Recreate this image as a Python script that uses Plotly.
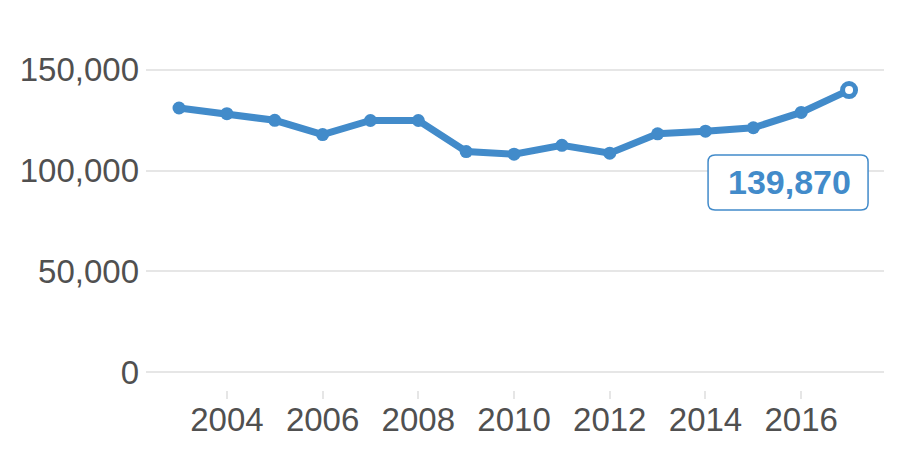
import plotly.graph_objects as go

years = list(range(2003, 2018))
values = [131000, 128200, 124900, 117800, 124800, 124800, 109400, 108100,
          112500, 108600, 118200, 119500, 121200, 128800, 139870]
y_ticks = [0, 50000, 100000, 150000]
x_ticks = [2004, 2006, 2008, 2010, 2012, 2014, 2016]

BLUE = "#428bca"
GRID = "#e6e6e6"
TEXT = "#505050"

fig = go.Figure()
fig.add_trace(go.Scatter(
    x=years, y=values, mode="lines",
    line=dict(color=BLUE, width=7), hoverinfo="skip",
))
fig.add_trace(go.Scatter(
    x=years[:-1], y=values[:-1], mode="markers",
    marker=dict(color=BLUE, size=13), hoverinfo="skip",
))
fig.add_trace(go.Scatter(
    x=[years[-1]], y=[values[-1]], mode="markers",
    marker=dict(color="white", size=13, line=dict(color=BLUE, width=5)),
    hoverinfo="skip",
))

def rrect(x0, y0, x1, y1, r):
    return (f"M{x0+r},{y0} L{x1-r},{y0} Q{x1},{y0} {x1},{y0+r} "
            f"L{x1},{y1-r} Q{x1},{y1} {x1-r},{y1} L{x0+r},{y1} "
            f"Q{x0},{y1} {x0},{y1-r} L{x0},{y0+r} Q{x0},{y0} {x0+r},{y0} Z")

fig.add_shape(
    type="path", xsizemode="pixel", ysizemode="pixel",
    xanchor=years[-1], yanchor=values[-1],
    path=rrect(-141, -120, 19, -65, 7),
    line=dict(color=BLUE, width=1.5), fillcolor="white", layer="above",
)
fig.add_annotation(
    x=years[-1], y=values[-1], text=f"<b>{values[-1]:,}</b>",
    showarrow=False, xshift=-60, yshift=-92,
    font=dict(family="Liberation Sans, Arial", size=34, color=BLUE),
)

fig.update_layout(
    width=892, height=442,
    margin=dict(l=137, r=16, t=31, b=56),
    paper_bgcolor="white", plot_bgcolor="white",
    showlegend=False,
    font=dict(family="Liberation Sans, Arial", size=33, color=TEXT),
    hovermode=False,
    xaxis=dict(
        range=[2002.31, 2017.73], tickvals=x_ticks, showgrid=False,
        zeroline=False, showline=False,
        ticks="outside", ticklen=8, tickwidth=2, tickcolor=GRID,
        ticklabelstandoff=-8,
        tickfont=dict(size=33, color=TEXT),
    ),
    yaxis=dict(
        range=[-8800, 165200], tickvals=y_ticks, tickformat=",",
        showgrid=True, gridcolor=GRID, gridwidth=2,
        zeroline=False, showline=False, ticks="",
        ticklabelstandoff=6,
        tickfont=dict(size=33, color=TEXT),
    ),
)

fig.write_html("out.html", config={"displayModeBar": False})
